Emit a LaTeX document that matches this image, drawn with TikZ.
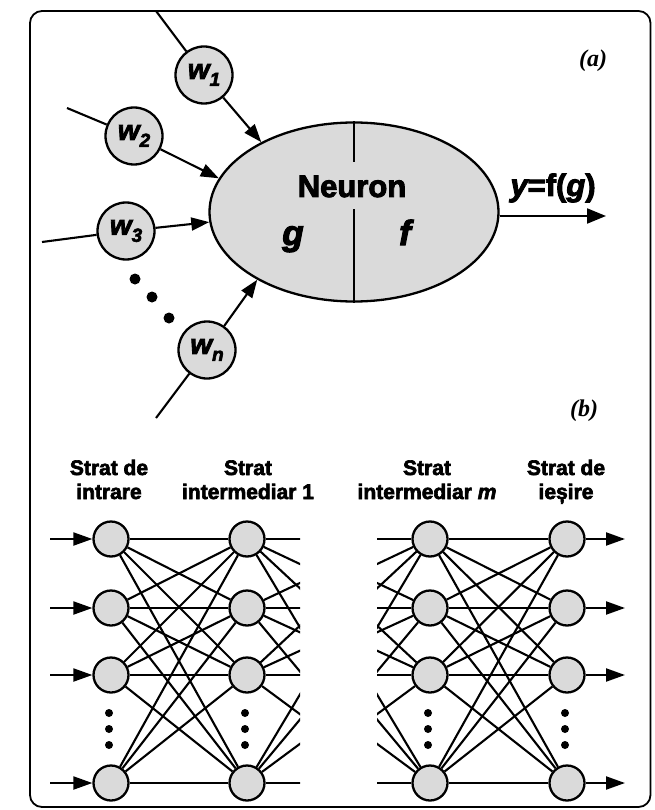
\documentclass[tikz,border=0pt]{standalone}
\usepackage{fontspec}
\setmainfont{Liberation Sans}
\newfontfamily\serifbi{Liberation Serif Bold Italic}
\newfontfamily\heavy{Liberation Sans Bold}[FakeBold=3]
\newfontfamily\heavyit{Liberation Sans Bold Italic}[FakeBold=3]
\usetikzlibrary{shapes.geometric,arrows.meta}
\definecolor{nfill}{RGB}{218,218,218}
\newcommand{\wlab}[1]{\heavyit w\raisebox{-7pt}{\fontsize{19}{19}\selectfont #1}}
\begin{document}
\begin{tikzpicture}[x=1pt,y=-1pt,
  wcirc/.style={circle, draw, line width=2.3pt, fill=nfill, minimum size=57pt, inner sep=0pt, font=\fontsize{28}{28}\selectfont},
  ncirc/.style={circle, draw, line width=2.3pt, fill=nfill, minimum size=35pt, inner sep=0pt},
  link/.style={line width=2.1pt},
  wline/.style={line width=2.1pt},
  arr/.style={line width=2.1pt, -{Triangle[length=18pt,width=13pt]}},
  dotn/.style={circle, fill=black, inner sep=0pt, minimum size=11pt},
  ndot/.style={circle, fill=black, inner sep=0pt, minimum size=8pt},
  lab/.style={anchor=base, font=\heavy\fontsize{21}{21}\selectfont},
  big/.style={anchor=base, font=\heavy\fontsize{31}{31}\selectfont},
  panel/.style={anchor=base, font=\serifbi\fontsize{24}{24}\selectfont}]
\useasboundingbox (0,0) rectangle (654,810);
\fill[white] (0,0) rectangle (654,810);
% frame
\draw[line width=1.8pt, rounded corners=12pt] (30,11) rectangle (650.5,807);

% ---------- (a) neuron ----------
\node[ellipse, draw, line width=2.3pt, fill=nfill, minimum width=289pt, minimum height=179pt, inner sep=0pt] (neuron) at (354,212) {};
\draw[wline] (neuron.north) -- ++(0,41);
\draw[wline] (neuron.south) -- ++(0,-94);
\node[big] (neurontxt) at (352,197) {Neuron};
\node[anchor=base, font=\heavyit\fontsize{35}{35}\selectfont] (gtxt) at (293,245) {g};
\node[anchor=base, font=\heavyit\fontsize{35}{35}\selectfont] (ftxt) at (405,245) {f};
\node[big] (ytxt) at (553,196) {{\heavyit y}=f({\heavyit g})};
\node[panel] (la) at (593,67) {(a)};
\node[panel] (lb) at (584,416) {(b)};

\node[wcirc] (w1) at (204,75) {\wlab{1}};
\node[wcirc] (w2) at (134,136) {\wlab{2}};
\node[wcirc] (w3) at (126,231) {\wlab{3}};
\node[wcirc] (wn) at (207,350) {\wlab{n}};

\coordinate (s1) at (156,11);
\coordinate (s2) at (67,108);
\coordinate (s3) at (42,242);
\coordinate (s4) at (156,418);
\draw[wline] (s1) -- (w1);
\draw[wline] (s2) -- (w2);
\draw[wline] (s3) -- (w3);
\draw[wline] (s4) -- (wn);
\draw[arr] (w1) -- (neuron.143.6);
\draw[arr] (w2) -- (neuron.166.6);
\draw[arr] (w3) -- (neuron.184);
\draw[arr] (wn) -- (neuron.215.6);

\coordinate (yout) at (606,216);
\draw[arr, -{Triangle[length=19pt,width=15pt]}] (neuron.east |- yout) -- (yout);

\node[dotn] (d1) at (135,279) {};
\node[dotn] (d2) at (152,297) {};
\node[dotn] (d3) at (169,318) {};

% ---------- (b) network ----------
\node[lab] (t1a) at (109,475) {Strat de};
\node[lab] (t1b) at (109,499) {intrare};
\node[lab] (t2a) at (248,475) {Strat};
\node[lab] (t2b) at (248,499) {intermediar 1};
\node[lab] (t3a) at (427,475) {Strat};
\node[lab] (t3b) at (427,499) {intermediar {\heavyit m}};
\node[lab] (t4a) at (566,475) {Strat de};
\node[lab] (t4b) at (566,499) {ieșire};

\foreach \i/\y in {1/539,2/608,3/675,4/783} {
  \node[ncirc] (in\i) at (111,\y) {};
  \node[ncirc] (h\i) at (247,\y) {};
  \node[ncirc] (m\i) at (430,\y) {};
  \node[ncirc] (o\i) at (567,\y) {};
  \coordinate (p\i) at (393,\y);
  \coordinate (q\i) at (284,\y);
  \coordinate (a\i) at (50,\y);
  \coordinate (b\i) at (625,\y);
}
\foreach \i in {1,...,4} {
  \foreach \j in {1,...,4} {
    \draw[link] (in\i) -- (h\j);
    \draw[link] (m\i) -- (o\j);
  }
}
\begin{scope}
  \clip (200,0) rectangle (300,810);
  \foreach \i in {1,...,4} { \foreach \j in {1,...,4} { \draw[link] (h\i) -- (p\j); } }
\end{scope}
\begin{scope}
  \clip (377,0) rectangle (480,810);
  \foreach \i in {1,...,4} { \foreach \j in {1,...,4} { \draw[link] (q\i) -- (m\j); } }
\end{scope}
\foreach \i in {1,...,4} {
  \draw[arr, -{Triangle[length=19pt,width=13pt]}] (a\i) -- (in\i);
  \draw[arr, -{Triangle[length=19pt,width=13pt]}] (o\i) -- (b\i);
}
\foreach \x [count=\k] in {109,245,428,565} {
  \node[ndot] (ka\k) at (\x,713) {};
  \node[ndot] (kb\k) at (\x,729) {};
  \node[ndot] (kc\k) at (\x,745) {};
}
\end{tikzpicture}
\end{document}
